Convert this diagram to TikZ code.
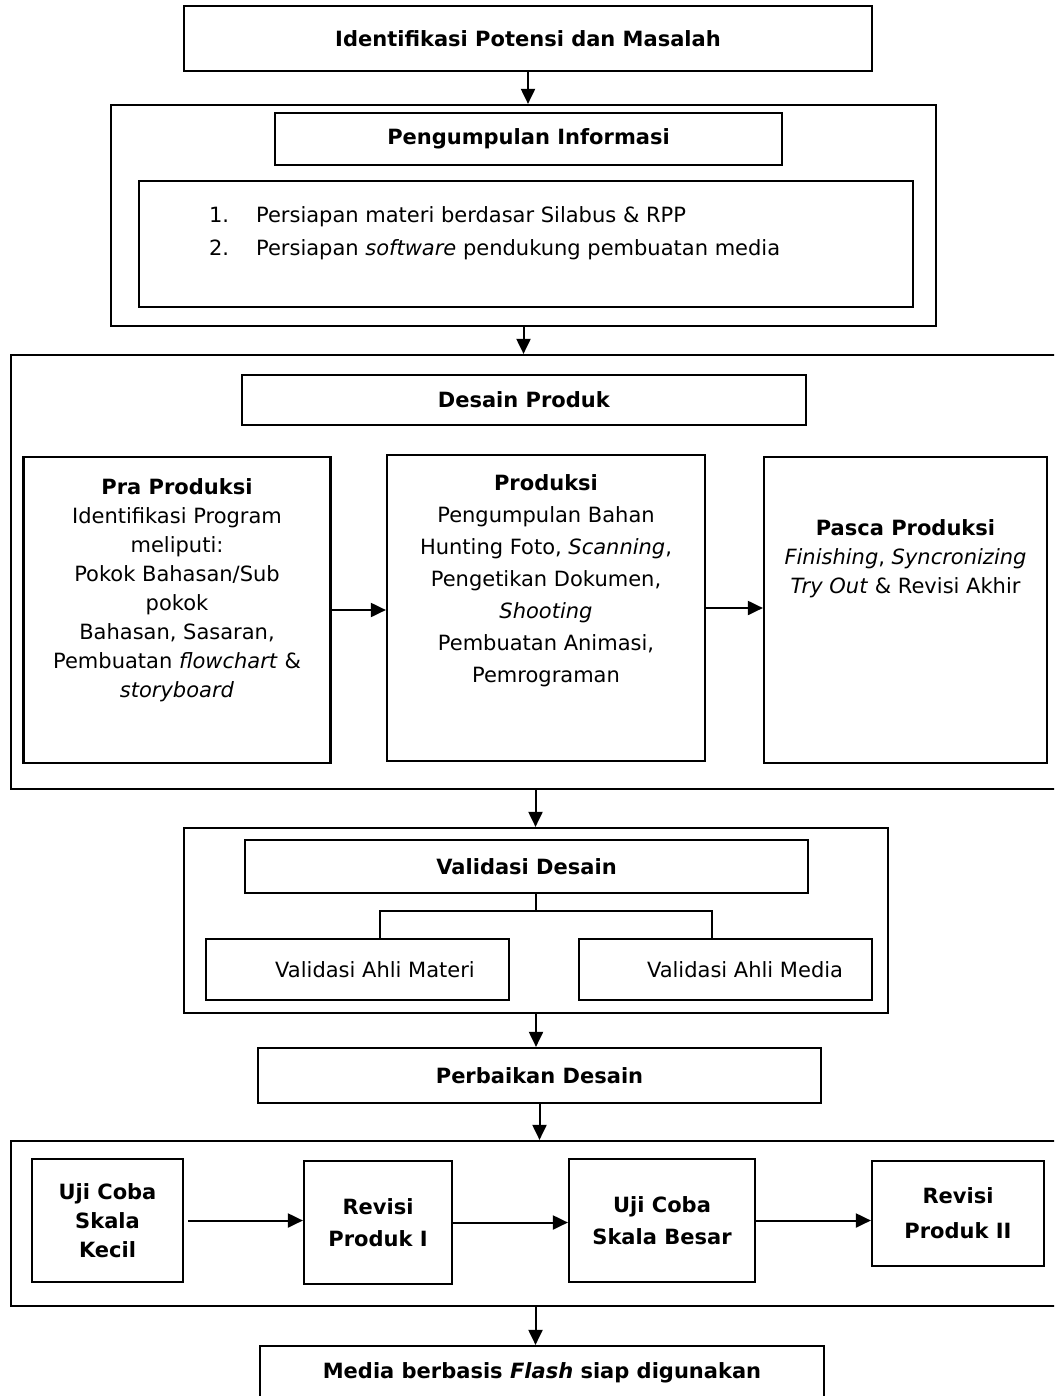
\documentclass[tikz,border=0pt]{standalone}
\usepackage{fontspec}
\setmainfont{DejaVu Sans}
\usetikzlibrary{arrows.meta}

\begin{document}
\begin{tikzpicture}[x=1pt,y=-1pt,
                    line width=2.2pt,
                    every node/.style={font=\fontsize{21}{29}\selectfont},
                    box/.style n args={2}{draw,rectangle,inner sep=0pt,line width=2.2pt,
                    minimum width=#1pt,minimum height=#2pt,align=center},
                    txt/.style={inner sep=0pt,align=center},
                    arr/.style={line width=2pt,-{Triangle[length=15pt,width=14pt]}},
                    thin line/.style={line width=1.4pt}]
    \useasboundingbox (0,0) rectangle (1054,1396);
    \clip (0,0) rectangle (1054,1396);

    \node[box={688}{65}] (idm) at (528,38.5) {\textbf{Identifikasi Potensi dan Masalah}};

    \node[box={825}{221}] (kumpul) at (523.5,215.5) {};
    \node[box={507}{52}] (info) at (528.5,139) {\textbf{Pengumpulan Informasi}};
    \node[box={774}{126}] (persiapan) at (526,244) {};
    \node[txt,anchor=north west,align=left,font=\fontsize{21}{33}\selectfont] (daftar) at (208,205)
        {\makebox[47pt][l]{1.}Persiapan materi berdasar Silabus \& RPP\\
         \makebox[47pt][l]{2.}Persiapan \textit{software} pendukung pembuatan media};

    \node[box={1049}{434}] (desain) at (535.5,572) {};
    \node[box={564}{50}] (desjudul) at (524,400) {\textbf{Desain Produk}};
    \node[box={307}{306}] (pra) at (177,610) {};
    \node[box={318}{306}] (prod) at (546,608) {};
    \node[box={283}{306}] (pasca) at (905.5,610) {};
    \node[txt,anchor=north] (pratxt) at (177,477)
        {\textbf{Pra Produksi}\\Identifikasi Program\\meliputi:\\Pokok Bahasan/Sub\\pokok\\
         Bahasan, Sasaran,\\Pembuatan \textit{flowchart} \&\\\textit{storyboard}};
    \node[txt,anchor=north,font=\fontsize{21}{32}\selectfont] (prodtxt) at (546,473)
        {\textbf{Produksi}\\Pengumpulan Bahan\\Hunting Foto, \textit{Scanning},\\Pengetikan Dokumen,\\
         \textit{Shooting}\\Pembuatan Animasi,\\Pemrograman};
    \node[txt,anchor=north] (pascatxt) at (905.5,518)
        {\textbf{Pasca Produksi}\\\textit{Finishing}, \textit{Syncronizing}\\\textit{Try Out} \& Revisi Akhir};

    \node[box={704}{185}] (validasi) at (536,920.5) {};
    \node[box={563}{53}] (valdes) at (526.5,866.5) {\textbf{Validasi Desain}};
    \node[box={303}{61}] (vmateri) at (357.5,969.5) {\hspace*{35pt}Validasi Ahli Materi};
    \node[box={293}{61}] (vmedia) at (725.5,969.5) {\hspace*{39pt}Validasi Ahli Media};
    \coordinate (cabang) at (536,911);
    \coordinate (cabkiri) at (380,911);
    \coordinate (cabkanan) at (712,911);

    \node[box={563}{55}] (perbaikan) at (539.5,1075.5) {\textbf{Perbaikan Desain}};

    \node[box={1049}{165}] (ujicoba) at (535.5,1223.5) {};
    \node[box={151}{123},font=\bfseries\fontsize{21}{29}\selectfont] (ujikecil) at (107.5,1220.5) {Uji Coba\\Skala\\Kecil};
    \node[box={148}{123},font=\bfseries\fontsize{21}{32}\selectfont] (revisi1) at (378,1222.5) {Revisi\\Produk I};
    \node[box={186}{123},font=\bfseries\fontsize{21}{32}\selectfont] (ujibesar) at (662,1220.5) {Uji Coba\\Skala Besar};
    \node[box={172}{105},font=\bfseries\fontsize{21}{35}\selectfont] (revisi2) at (958,1213.5) {Revisi\\Produk II};

    \node[box={564}{54}] (siap) at (542,1373) {\textbf{Media berbasis \textit{Flash} siap digunakan}};

    \draw[arr] (idm.south) -- (idm.south |- kumpul.north);
    \draw[arr] (kumpul.south) -- (kumpul.south |- desain.north);
    \draw[arr] (pra.east) -- (pra.east -| prod.west);
    \draw[arr] (prod.east) -- (prod.east -| pasca.west);
    \draw[arr] (desain.south) -- (desain.south |- validasi.north);
    \draw[thin line] (valdes.south -| cabang) -- (cabang);
    \draw[thin line] (cabkiri |- vmateri.north) -- (cabkiri) -- (cabkanan) -- (cabkanan |- vmedia.north);
    \draw[arr] (validasi.south) -- (validasi.south |- perbaikan.north);
    \draw[arr] (perbaikan.south) -- (perbaikan.south |- ujicoba.north);
    \draw[arr,shorten <=4pt] (ujikecil.east) -- (ujikecil.east -| revisi1.west);
    \draw[arr] (revisi1.east) -- (revisi1.east -| ujibesar.west);
    \draw[arr] (ujibesar.east) -- (ujibesar.east -| revisi2.west);
    \draw[arr] (ujicoba.south) -- (ujicoba.south |- siap.north);
\end{tikzpicture}
\end{document}
